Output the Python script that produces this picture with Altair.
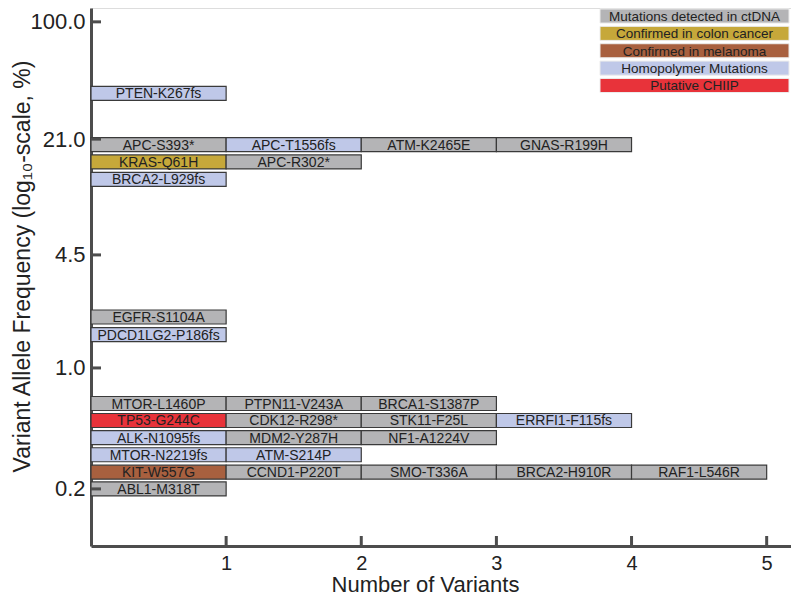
import altair as alt
import pandas as pd

# ---------------- data ----------------
row_vaf = [38.6, 19.5, 15.5, 12.3, 1.97, 1.56, 0.623, 0.497, 0.396, 0.315, 0.25, 0.2]
row_mutations = [
    ["PTEN-K267fs"],
    ["APC-S393*", "APC-T1556fs", "ATM-K2465E", "GNAS-R199H"],
    ["KRAS-Q61H", "APC-R302*"],
    ["BRCA2-L929fs"],
    ["EGFR-S1104A"],
    ["PDCD1LG2-P186fs"],
    ["MTOR-L1460P", "PTPN11-V243A", "BRCA1-S1387P"],
    ["TP53-G244C", "CDK12-R298*", "STK11-F25L", "ERRFI1-F115fs"],
    ["ALK-N1095fs", "MDM2-Y287H", "NF1-A1224V"],
    ["MTOR-N2219fs", "ATM-S214P"],
    ["KIT-W557G", "CCND1-P220T", "SMO-T336A", "BRCA2-H910R", "RAF1-L546R"],
    ["ABL1-M318T"],
]
G, C, M, H, P = ("Mutations detected in ctDNA", "Confirmed in colon cancer",
                 "Confirmed in melanoma", "Homopolymer Mutations", "Putative CHIIP")
row_categories = [
    [H],
    [G, H, G, G],
    [C, G],
    [H],
    [G],
    [H],
    [G, G, G],
    [P, G, G, H],
    [H, G, G],
    [H, H],
    [M, G, G, G, G],
    [G],
]
legend_labels = [G, C, M, H, P]
legend_colors = ["#b4b4b6", "#c6a83a", "#a8603f", "#bfc8e8", "#e8333a"]

y_ticks = [0.2, 1.0, 4.5, 21.0, 100.0]
x_ticks = [1, 2, 3, 4, 5]

records = []
for vaf, muts, cats in zip(row_vaf, row_mutations, row_categories):
    for i, (m, c) in enumerate(zip(muts, cats)):
        records.append({"vaf": vaf, "x0": i, "x1": i + 1, "xm": i + 0.5,
                        "mutation": m, "category": c})
df = pd.DataFrame(records)
leg_df = pd.DataFrame({"label": legend_labels})
ytick_df = pd.DataFrame({"v": y_ticks})
xtick_df = pd.DataFrame({"v": x_ticks})

W, Hh = 700, 538
FONT = "Liberation Sans"
AX = "#4d4d4d"

xscale = alt.Scale(domain=[0, 5.18], nice=False, zero=False)
yscale = alt.Scale(type="log", domain=[0.1, 112.5], nice=False)
color_scale = alt.Scale(domain=legend_labels, range=legend_colors)

x_axis = alt.Axis(values=x_ticks, format="d", ticks=False, grid=False, domainColor=AX,
                  domainWidth=3, labelFontSize=20, labelFont=FONT, labelColor="#222",
                  labelPadding=7, title="Number of Variants", titleFontSize=22,
                  titleFont=FONT, titleFontWeight="normal", titleColor="#222",
                  titleX=334, titleY=45, titleBaseline="alphabetic", titleAlign="center")
y_axis = alt.Axis(values=y_ticks, format=".1f", ticks=False, grid=False, domainColor=AX,
                  domainWidth=3, labelFontSize=22, labelFont=FONT, labelColor="#222",
                  labelPadding=6, title="Variant Allele Frequency (log₁₀-scale, %)",
                  titleFontSize=23, titleFont=FONT, titleFontWeight="normal",
                  titleColor="#222", titleX=-62, titleY=258, titleAngle=-90,
                  titleBaseline="alphabetic", titleAlign="center")

bars = alt.Chart(df).mark_bar(size=14, stroke="#3a3a3a", strokeWidth=1.2).encode(
    x=alt.X("x0:Q", scale=xscale, axis=x_axis),
    x2="x1:Q",
    y=alt.Y("vaf:Q", scale=yscale, axis=y_axis),
    color=alt.Color("category:N", scale=color_scale, legend=None),
)
labels = alt.Chart(df).mark_text(fontSize=14, font=FONT, color="#222", baseline="middle",
                                 dy=1).encode(
    x=alt.X("xm:Q", scale=xscale),
    y=alt.Y("vaf:Q", scale=yscale),
    text="mutation:N",
)
yticks = alt.Chart(ytick_df).mark_rule(color=AX, strokeWidth=3).encode(
    y=alt.Y("v:Q", scale=yscale), x=alt.value(0), x2=alt.value(10))
xticks = alt.Chart(xtick_df).mark_rule(color=AX, strokeWidth=3).encode(
    x=alt.X("v:Q", scale=xscale), y=alt.value(Hh), y2=alt.value(Hh - 10))

main = alt.layer(bars, labels, yticks, xticks)

leg_y = alt.Y("label:N", sort=legend_labels,
              scale=alt.Scale(domain=legend_labels, range=[1, 84.5], paddingInner=0.19,
                              paddingOuter=0), axis=None)
leg_box = alt.Chart(leg_df).mark_rect(stroke="#ececec", strokeWidth=1).encode(
    x=alt.value(509), x2=alt.value(698), y=leg_y,
    color=alt.Color("label:N", scale=color_scale, legend=None),
)
leg_text = alt.Chart(leg_df).mark_text(fontSize=13.5, font=FONT, color="#222",
                                       baseline="middle", dy=1).encode(
    x=alt.value(603.5), y=leg_y, text="label:N")
legend = alt.layer(leg_box, leg_text)

chart = alt.layer(main, legend).resolve_scale(y="independent").properties(
    width=W, height=Hh,
    autosize=alt.AutoSizeParams(type="none"),
    padding={"left": 83, "top": 0, "right": 0, "bottom": 50},
).configure_view(stroke=None).configure(background="white")

chart.save("out.html", embed_options={"renderer": "svg", "actions": False})
